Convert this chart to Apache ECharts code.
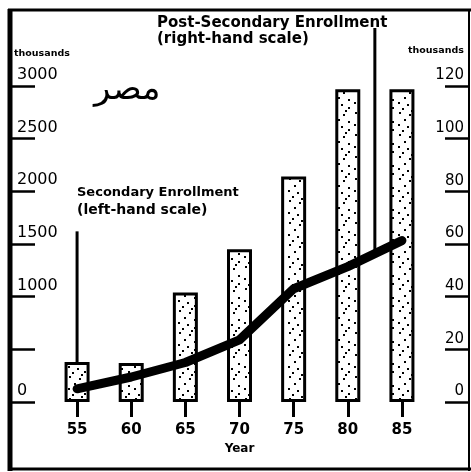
<!DOCTYPE html>
<html>
<head>
<meta charset="utf-8">
<script src="https://cdn.jsdelivr.net/npm/echarts@6/dist/echarts.min.js"></script>
<style>
  html, body { margin: 0; padding: 0; background: #fff; }
  #chart { width: 471px; height: 472px; }
</style>
</head>
<body>
<div id="chart"></div>
<script>
// Enrollment in Egypt, 1955-1985 (thousands)
const years = ['55', '60', '65', '70', '75', '80', '85'];
// Secondary enrollment, left-hand scale (bars)
const secondaryEnrollment = [380, 370, 1040, 1450, 2140, 2970, 2970];
// Post-secondary enrollment, right-hand scale (line)
const postSecondaryEnrollment = [5, 9.5, 15, 23.6, 43, 51.4, 61.3];
// Axis tick labels
const leftTickLabels = ['0', '', '1000', '1500', '2000', '2500', '3000'];
const rightTickLabels = ['0', '20', '40', '60', '80', '100', '120'];

// Stippled fill for the bars
function stipple() {
  const c = document.createElement('canvas');
  c.width = 22; c.height = 22;
  const g = c.getContext('2d');
  g.fillStyle = '#fff';
  g.fillRect(0, 0, 22, 22);
  g.fillStyle = '#000';
  const dots = [[3, 2], [13, 4], [8, 9], [18, 11], [2, 14], [11, 16], [18, 19], [6, 20], [15, 0]];
  dots.forEach(function (d) { g.fillRect(d[0], d[1], 2, 2); });
  return c;
}

const chart = echarts.init(document.getElementById('chart'), null, { renderer: 'canvas' });
const font = 'DejaVu Sans';

const option = {
  animation: false,
  backgroundColor: '#fff',
  grid: { left: 50, right: 42, top: 86, bottom: 70 },
  xAxis: {
    type: 'category',
    data: years,
    boundaryGap: true,
    axisLine: { show: false },
    axisTick: { show: true, alignWithLabel: true, length: 15, lineStyle: { color: '#000', width: 3 } },
    axisLabel: { color: '#000', fontFamily: font, fontSize: 15, fontWeight: 'bold', margin: 21 },
    name: 'Year',
    nameLocation: 'middle',
    nameGap: 33,
    nameTextStyle: { color: '#000', fontFamily: font, fontSize: 12, fontWeight: 'bold', verticalAlign: 'top' },
    splitLine: { show: false }
  },
  yAxis: [
    {
      type: 'value', min: 0, max: 3000, interval: 500, position: 'left', offset: 40,
      axisLine: { show: false },
      axisTick: { show: true, inside: true, length: 25, lineStyle: { color: '#000', width: 2.5 } },
      axisLabel: {
        inside: true, margin: 7, color: '#000', fontFamily: font, fontSize: 16,
        verticalAlign: 'bottom', padding: [0, 0, 3, 0],
        formatter: function (v) { return leftTickLabels[Math.round(v / 500)]; }
      },
      splitLine: { show: false }
    },
    {
      type: 'value', min: 0, max: 120, interval: 20, position: 'right', offset: 40,
      axisLine: { show: false },
      axisTick: { show: true, inside: true, length: 24, lineStyle: { color: '#000', width: 2.5 } },
      axisLabel: {
        inside: true, margin: 5, color: '#000', fontFamily: font, fontSize: 15,
        verticalAlign: 'bottom', padding: [0, 0, 3, 0],
        formatter: function (v) { return rightTickLabels[Math.round(v / 20)]; }
      },
      splitLine: { show: false }
    }
  ],
  series: [
    {
      name: 'Secondary Enrollment',
      type: 'bar',
      yAxisIndex: 0,
      data: secondaryEnrollment,
      barWidth: 25,
      z: 2,
      itemStyle: {
        color: { image: stipple(), repeat: 'repeat' },
        borderColor: '#000',
        borderWidth: 3
      }
    },
    {
      name: 'Post-Secondary Enrollment',
      type: 'line',
      yAxisIndex: 1,
      data: postSecondaryEnrollment,
      symbol: 'none',
      z: 3,
      lineStyle: { color: '#000', width: 9, cap: 'round', join: 'round' }
    }
  ]
};
chart.setOption(option);

// Frame, pointer lines and labels
const p55 = chart.convertToPixel({ xAxisIndex: 0, yAxisIndex: 0 }, [0, secondaryEnrollment[0]]);
const pTop55 = chart.convertToPixel({ xAxisIndex: 0, yAxisIndex: 0 }, [0, 1620]);
const p80 = chart.convertToPixel({ xAxisIndex: 0, yAxisIndex: 1 }, [5, postSecondaryEnrollment[5]]);
const p85 = chart.convertToPixel({ xAxisIndex: 0, yAxisIndex: 1 }, [6, postSecondaryEnrollment[6]]);
const midX = (p80[0] + p85[0]) / 2;
const midY = (p80[1] + p85[1]) / 2;

function seg(x1, y1, x2, y2, w) {
  return { type: 'line', shape: { x1: x1, y1: y1, x2: x2, y2: y2 }, style: { stroke: '#000', lineWidth: w }, z: 10 };
}
function label(x, y, text, size, weight) {
  return {
    type: 'text', x: x, y: y, z: 10,
    style: { text: text, fill: '#000', font: (weight || 'normal') + ' ' + size + 'px "' + font + '"', textVerticalAlign: 'middle' }
  };
}

chart.setOption({
  graphic: [
    seg(10, 9, 10, 471, 5),
    seg(8, 10, 471, 10, 3),
    seg(8, 469, 471, 469, 3),
    seg(469, 9, 469, 471, 2),
    seg(p55[0], pTop55[1], p55[0], p55[1], 3),
    seg(midX, 28, midX, midY, 3),
    label(157, 23, 'Post-Secondary Enrollment', 15, 'bold'),
    label(157, 39, '(right-hand scale)', 15, 'bold'),
    label(77, 193, 'Secondary Enrollment', 13, 'bold'),
    label(77, 210, '(left-hand scale)', 14, 'bold'),
    label(14, 54, 'thousands', 9.5, 'bold'),
    label(408, 51, 'thousands', 9.5, 'bold'),
    label(94, 90, 'مصر', 34, 'normal')
  ]
});
</script>
</body>
</html>
